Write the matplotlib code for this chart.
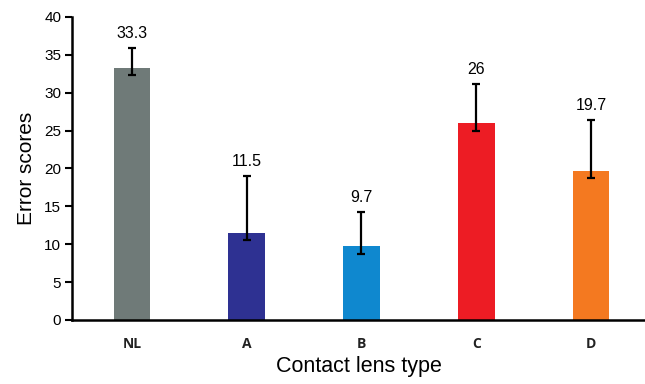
import matplotlib.pyplot as plt

# Données
lens_types = ['NL', 'A', 'B', 'C', 'D']
scores = [33.3, 11.5, 9.7, 26, 19.7]
err_low = [1.0, 0.9, 1.0, 1.1, 1.0]
err_high = [2.6, 7.5, 4.5, 5.1, 6.7]
labels = ['33.3', '11.5', '9.7', '26', '19.7']
colors = ['#6f7a78', '#2e3192', '#0f88cf', '#ed1c24', '#f47920']

fig = plt.figure(figsize=(6.45, 3.84), dpi=100)
ax = fig.add_axes([0.112, 0.167, 0.888, 0.789])

x = range(len(lens_types))
ax.bar(x, scores, width=0.32, color=colors, zorder=2)
ax.errorbar(x, scores, yerr=[err_low, err_high], fmt='none', ecolor='black',
            elinewidth=1.6, capsize=3, capthick=1.6, zorder=3)

for i in x:
    ax.text(i, scores[i] + err_high[i] + 0.9, labels[i], ha='center', va='bottom',
            fontsize=11.5, family='Liberation Sans')

ax.set_xlim(-0.52, 4.47)
ax.set_ylim(0, 40)
ax.set_yticks(range(0, 41, 5))
ax.set_xticks(list(x))
ax.set_xticklabels(lens_types, fontsize=10, fontweight='bold', family='Open Sans', color='#222222')
ax.tick_params(axis='x', length=0, pad=12)
ax.tick_params(axis='y', direction='out', length=5, width=1.5, labelsize=11, pad=3)
for lab in ax.get_yticklabels():
    lab.set_family('Liberation Sans')

ax.spines['top'].set_visible(False)
ax.spines['right'].set_visible(False)
ax.spines['left'].set_linewidth(1.8)
ax.spines['bottom'].set_linewidth(1.8)

ax.set_xlabel('Contact lens type', fontsize=15.5, family='Liberation Sans', labelpad=4)
ax.set_ylabel('Error scores', fontsize=15, family='Liberation Sans', labelpad=6)

plt.savefig('out.png', dpi=100)
